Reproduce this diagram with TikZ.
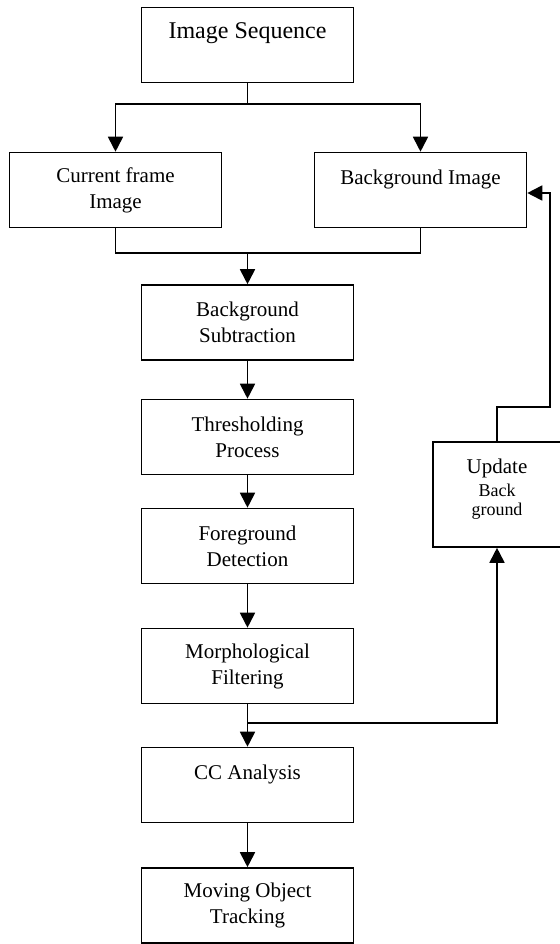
\documentclass[tikz,border=0pt]{standalone}
\usepackage{fontspec}
\setmainfont{Liberation Serif}
\usetikzlibrary{arrows.meta}

\begin{document}
\begin{tikzpicture}[node distance=57pt,
		stage/.style={rectangle, draw, line width=0.8pt, minimum width=106pt, minimum height=37.5pt, inner sep=0pt, align=center, font=\fontsize{10.5pt}{13pt}\selectfont},
		flow/.style={line width=0.9pt, -{Triangle[length=7.5pt, width=7.5pt]}},
		link/.style={line width=0.9pt}]
			\useasboundingbox (0,0) rectangle (279.5pt,-472pt);

			\node[stage, font=\fontsize{12pt}{14pt}\selectfont] (seq) at (123.75pt,-22.5pt) {Image Sequence\\\mbox{}};
			\node[stage] (cur) at (57.75pt,-95pt) {Current frame\\Image};
			\node[stage] (bgimg) at (210.25pt,-95pt) {Background Image\\\mbox{}};
			\node[stage] (sub)[below of = seq, node distance=138.75pt] {Background\\Subtraction};
			\node[stage] (thr)[below of = sub, node distance=57.25pt] {Thresholding\\Process};
			\node[stage] (fg)[below of = thr, node distance=54.5pt] {Foreground\\Detection};
			\node[stage] (morph)[below of = fg, node distance=60pt] {Morphological\\Filtering};
			\node[stage] (cc)[below of = morph, node distance=59.5pt] {CC Analysis\\\mbox{}};
			\node[stage] (track)[below of = cc, node distance=60.25pt] {Moving Object\\Tracking};
			\node[stage, minimum width=64pt, minimum height=52.5pt] (upd) at (248.5pt,-247.25pt) {Update\\[-1.5pt]{\fontsize{9pt}{11pt}\selectfont Back}\\[-3.5pt]{\fontsize{9pt}{11pt}\selectfont ground}\\[-6pt]\mbox{}};

			% split to the two inputs
			\draw[link] (seq.south) -- ++(0,-10.5pt) coordinate (split);
			\draw[flow] (split) -| (cur.north);
			\draw[flow] (split) -| (bgimg.north);

			% join into subtraction
			\draw[link] (cur.south) -- ++(0,-12.5pt) coordinate (join) -| (bgimg.south);
			\draw[flow] (sub.north |- join) -- (sub.north);

			\path[flow]
				(sub) edge (thr)
				(thr) edge (fg)
				(fg) edge (morph)
				(morph) edge (cc)
				(cc) edge (track)
			;

			% background update loop
			\draw[flow] (morph.south) ++(0,-9.5pt) coordinate (branch) -| (upd.south);
			\draw[flow] (upd.north) -- ++(0,17pt) -- ++(26.5pt,0) |- ([yshift=-1.5pt]bgimg.east);
		\end{tikzpicture}
\end{document}
